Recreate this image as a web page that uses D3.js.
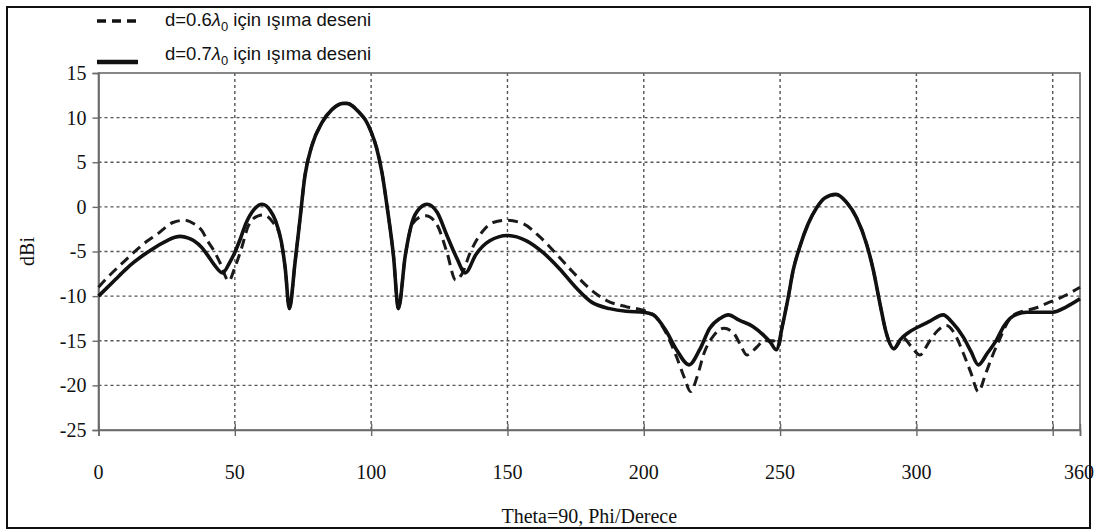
<!DOCTYPE html>
<html>
<head>
<meta charset="utf-8">
<script src="https://cdn.jsdelivr.net/npm/d3@7"></script>
<style>
  html, body { margin: 0; padding: 0; background: #fff; }
  svg { display: block; }
</style>
</head>
<body>
<svg id="chart" width="1096" height="532"></svg>
<script>
// Radiation pattern cut (Theta = 90), gain in dBi versus Phi in degrees.
const xTicks = [0, 50, 100, 150, 200, 250, 300, 350];
const xTickLabels = ["0", "50", "100", "150", "200", "250", "300", "", "360"];
const xLabelValues = [0, 50, 100, 150, 200, 250, 300, 350, 360];
const yTicks = [-25, -20, -15, -10, -5, 0, 5, 10, 15];

// d = 0.6 lambda0 (dashed)
const phi06 = [0, 3, 7, 10.5, 14.4, 18, 21.8, 25, 27.3, 31.5, 35, 38, 40, 42.5, 44.5, 47.8,
  50, 52.5, 55, 58.6, 60.5, 64, 66.5, 68.5, 70, 72.1, 73.9, 75.7, 78.2, 81.9, 85.6, 89.8, 91,
  95.9, 98, 100, 102, 104, 106, 108.2, 110, 112.5, 115, 117.5, 120, 123, 124.5, 127.8, 131, 133.5,
  136.1, 141, 144.7, 149.7, 155.8, 162, 168, 174, 180.3, 186.4, 193.7, 200, 204, 208.3, 212,
  214.7, 217.2, 219.6, 222.1, 225.7, 229.4, 233.1, 235.2, 237.8, 241.5, 244, 247.5, 249.5,
  251, 253, 254.8, 257.2, 260.3, 263.4, 266.4, 270.5, 274.4, 278, 281.7, 284.2, 286.6, 289,
  291.7, 295.2, 298, 301.3, 304.5, 307.4, 311, 314, 317.2, 320, 322.7, 325.5, 328, 331,
  334.3, 337, 340.4, 344, 347.8, 352, 356, 360];
const gain06 = [-9.0, -8.0, -6.8, -5.8, -4.7, -3.8, -3.0, -2.2, -1.75, -1.5, -1.9, -2.7, -3.8, -5.0, -6.2, -8.3,
  -6.8, -4.6, -2.1, -1.0, -0.9, -1.75, -3.2, -6.9, -11.4, -6.2, -1.4, 3.45, 6.8, 9.4, 10.9, 11.6, 11.6,
  10.5, 9.7, 8.4, 6.6, 3.8, -0.3, -5.5, -11.4, -5.5, -2.0, -1.2, -1.0, -1.5, -2.2, -5.1, -8.2, -7.4,
  -5.3, -2.7, -1.75, -1.5, -1.9, -3.4, -5.3, -7.3, -9.2, -10.5, -11.2, -11.6, -12.2, -14.2, -16.8,
  -19.0, -20.7, -19.0, -16.4, -14.4, -13.6, -14.2, -15.3, -16.6, -15.7, -15.0, -15.0, -15.5,
  -13.1, -10.1, -7.1, -4.5, -1.9, -0.1, 1.0, 1.4, 0.5, -1.2, -4.15, -7.1, -10.8, -14.2,
  -15.9, -14.7, -15.6, -16.6, -15.2, -14.0, -13.3, -14.2, -16.4, -18.6, -20.7, -18.6, -16.6, -14.5,
  -12.5, -11.9, -11.6, -11.3, -10.8, -10.3, -9.7, -9.0];

// d = 0.7 lambda0 (solid)
const phi07 = [0, 3, 6, 10, 13, 16, 19, 22, 25, 28, 30, 33, 35, 38, 40, 42.5, 45.5, 48, 50,
  52, 54, 57, 60, 63, 65, 67, 68.5, 70, 72.1, 73.9, 75.7, 78.2, 81.9, 85.6, 89.8, 91, 95.9,
  98, 100, 102, 104, 106, 108.2, 110, 112.5, 115, 118, 120.5, 124.2, 127.8, 131.5, 134.5, 138.5,
  143.5, 150, 157, 163, 169, 175, 181, 187.5, 193.5, 200, 203.5, 208, 212, 216.6, 220.5, 224.2,
  228, 231, 235, 240, 244, 246.5, 248.6, 251, 253, 254.8, 257.2, 260.3, 263.4, 266.4, 270.5,
  274.4, 278, 281.7, 284.2, 286.6, 289, 291.7, 294, 297, 301, 305, 309.8, 313, 317.2, 320,
  322.7, 326, 329.4, 332, 334.3, 337, 340.4, 345, 350, 355, 360];
const gain07 = [-10.0, -9.1, -8.2, -7.0, -6.2, -5.5, -4.9, -4.3, -3.8, -3.4, -3.3, -3.5, -3.8, -4.6, -5.4, -6.5, -7.4, -6.3, -5.1,
  -3.6, -1.9, -0.3, 0.3, -0.4, -1.6, -3.8, -6.9, -11.4, -6.2, -1.4, 3.45, 6.8, 9.4, 10.9, 11.6, 11.6, 10.5,
  9.7, 8.4, 6.6, 3.8, -0.3, -5.5, -11.4, -5.5, -1.75, -0.1, 0.3, -0.6, -3.2, -5.8, -7.4, -5.3,
  -3.8, -3.2, -3.8, -5.1, -6.9, -9.0, -10.7, -11.4, -11.7, -11.8, -12.1, -13.8, -16.0, -17.7, -16.0, -13.6,
  -12.5, -12.1, -12.7, -13.4, -14.4, -15.2, -16.0, -13.1, -10.1, -7.1, -4.5, -1.9, -0.1, 1.0, 1.4,
  0.5, -1.2, -4.15, -7.1, -10.8, -14.2, -15.9, -14.9, -14.1, -13.4, -12.8, -12.1, -12.9, -14.6, -16.2,
  -17.7, -16.4, -14.9, -13.4, -12.5, -12.0, -11.8, -11.8, -11.8, -11.2, -10.3];

const legendLabels = ["d=0.6", "d=0.7"];

const svg = d3.select("#chart");
const W = 1096, H = 532;
const margin = { left: 98.5, right: W - 1080, top: 73, bottom: H - 430 };
const plotW = W - margin.left - margin.right;
const plotH = H - margin.top - margin.bottom;

const x = d3.scaleLinear().domain([0, 360]).range([margin.left, margin.left + plotW]);
const y = d3.scaleLinear().domain([-25, 15]).range([margin.top + plotH, margin.top]);

const serif = "'Liberation Serif', 'Times New Roman', serif";
const sans = "'Liberation Sans', 'Noto Sans', Arial, sans-serif";

// outer frame
svg.append("rect")
  .attr("x", 7).attr("y", 7).attr("width", 1083).attr("height", 521)
  .attr("fill", "none").attr("stroke", "#111").attr("stroke-width", 2);

// grid
const grid = svg.append("g").attr("class", "grid")
  .attr("stroke", "#555").attr("stroke-width", 1.4).attr("stroke-dasharray", "3,3");
grid.selectAll("line.h").data(yTicks.filter(v => v > -25 && v < 15)).join("line")
  .attr("class", "h")
  .attr("x1", x(0)).attr("x2", x(360))
  .attr("y1", d => y(d)).attr("y2", d => y(d));
grid.selectAll("line.v").data(xTicks.filter(v => v > 0)).join("line")
  .attr("class", "v")
  .attr("x1", d => x(d)).attr("x2", d => x(d))
  .attr("y1", y(15)).attr("y2", y(-25));

// plot frame
svg.append("rect")
  .attr("x", x(0)).attr("y", y(15))
  .attr("width", x(360) - x(0)).attr("height", y(-25) - y(15))
  .attr("fill", "none").attr("stroke", "#6a6a6a").attr("stroke-width", 1.6);

// y axis (plain hyphen for negative values)
const yAxis = d3.axisLeft(y).tickValues(yTicks).tickSize(6).tickPadding(6)
  .tickFormat(d => String(d));
const gy = svg.append("g").attr("transform", `translate(${x(0)},0)`).call(yAxis);
gy.select(".domain").attr("stroke", "#6a6a6a").attr("stroke-width", 1.6);
gy.selectAll(".tick line").attr("stroke", "#6a6a6a").attr("stroke-width", 1.4);
gy.selectAll(".tick text")
  .attr("font-family", serif).attr("font-size", 20).attr("fill", "#111");

// x axis: ticks cross the baseline, labels set lower
const xAxis = d3.axisBottom(x).tickValues(xTicks.concat([360])).tickSize(6).tickFormat("");
const gx = svg.append("g").attr("transform", `translate(0,${y(-25)})`).call(xAxis);
gx.select(".domain").attr("stroke", "#6a6a6a").attr("stroke-width", 1.6);
gx.selectAll(".tick line").attr("y1", -6).attr("y2", 6)
  .attr("stroke", "#6a6a6a").attr("stroke-width", 1.4);

svg.append("g").selectAll("text").data(xLabelValues).join("text")
  .attr("x", d => d === 360 ? x(d) - 1 : x(d))
  .attr("y", 479)
  .attr("text-anchor", "middle")
  .attr("font-family", serif).attr("font-size", 20).attr("fill", "#111")
  .text((d, i) => xTickLabels[i]);

// axis titles
svg.append("text")
  .attr("x", (x(0) + x(360)) / 2).attr("y", 523)
  .attr("text-anchor", "middle")
  .attr("font-family", serif).attr("font-size", 20).attr("fill", "#111")
  .text("Theta=90, Phi/Derece");

svg.append("text")
  .attr("transform", `translate(34,${(y(15) + y(-25)) / 2}) rotate(-90)`)
  .attr("text-anchor", "middle")
  .attr("font-family", serif).attr("font-size", 20).attr("fill", "#111")
  .text("dBi");

// series
const line = d3.line()
  .x(d => x(d[0])).y(d => y(d[1]))
  .curve(d3.curveMonotoneX);

const series06 = phi06.map((p, i) => [p, gain06[i]]);
const series07 = phi07.map((p, i) => [p, gain07[i]]);

svg.append("path").datum(series06)
  .attr("d", line)
  .attr("fill", "none").attr("stroke", "#1a1a1a")
  .attr("stroke-width", 3).attr("stroke-dasharray", "10,6")
  .attr("stroke-linejoin", "round");

svg.append("path").datum(series07)
  .attr("d", line)
  .attr("fill", "none").attr("stroke", "#111")
  .attr("stroke-width", 3.6).attr("stroke-linejoin", "round");

// legend
const legend = svg.append("g").attr("font-family", sans).attr("font-size", 18.5).attr("fill", "#111");
const rows = [
  { label: legendLabels[0], dash: "9,6", width: 3.4, lineY: 21, textY: 26 },
  { label: legendLabels[1], dash: null, width: 4.6, lineY: 62, textY: 60 }
];
rows.forEach(r => {
  legend.append("line")
    .attr("x1", 97).attr("x2", 138).attr("y1", r.lineY).attr("y2", r.lineY)
    .attr("stroke", "#111").attr("stroke-width", r.width)
    .attr("stroke-dasharray", r.dash);
  const t = legend.append("text").attr("x", 165).attr("y", r.textY);
  t.append("tspan").text(r.label);
  t.append("tspan").attr("font-style", "italic").text("λ");
  t.append("tspan").attr("font-size", 13).attr("dy", 5).text("0");
  t.append("tspan").attr("dy", -5).text("  için ışıma deseni");
});
</script>
</body>
</html>
